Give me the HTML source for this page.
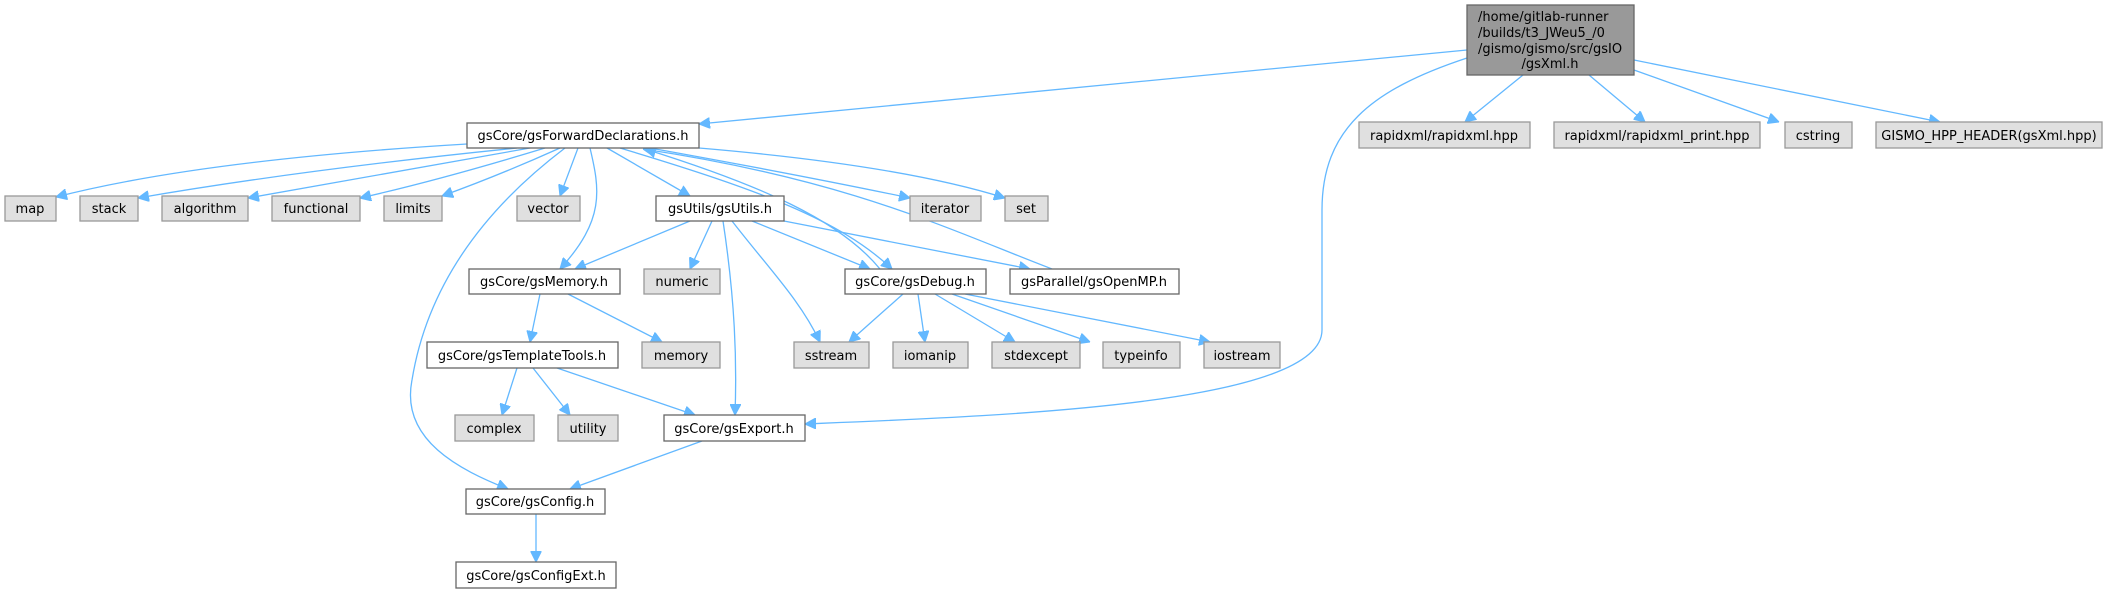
<!DOCTYPE html>
<html><head><meta charset="utf-8"><style>
html,body{margin:0;padding:0;background:#fff;}
svg{display:block;}
text{font-family:"DejaVu Sans","Liberation Sans",sans-serif;font-size:13px;fill:#000;text-anchor:middle;}
.e{fill:none;stroke:#63b8ff;stroke-width:1.3;marker-end:url(#a);}
.g{fill:#e0e0e0;stroke:#999;stroke-width:1.3;}
.w{fill:#fff;stroke:#666;stroke-width:1.3;}
</style></head><body>
<svg width="2121" height="593" viewBox="0 0 2121 593" xmlns="http://www.w3.org/2000/svg">
<defs><marker id="a" viewBox="0 0 10 10" refX="10" refY="5" markerWidth="11" markerHeight="11" markerUnits="userSpaceOnUse" orient="auto"><path d="M0,0 L10,5 L0,10 z" fill="#63b8ff" stroke="#63b8ff"/></marker></defs>
<path class="e" d="M1467,50 Q1100,85 699,124"/>
<path class="e" d="M1467,58 C1370,90 1322,130 1322,210 L1322,330 C1322,405 1000,416 805,424"/>
<path class="e" d="M1523,75 L1465,122"/>
<path class="e" d="M1589,75 L1645,122"/>
<path class="e" d="M1634,70 L1779,122"/>
<path class="e" d="M1634,60 L1940,122"/>
<path class="e" d="M467,144 Q200,160 56,197"/>
<path class="e" d="M517,148 Q300,170 138,198"/>
<path class="e" d="M530,148 Q380,175 248,198"/>
<path class="e" d="M545,148 Q440,180 360,198"/>
<path class="e" d="M560,148 Q500,175 442,196"/>
<path class="e" d="M578,148 L560,196"/>
<path class="e" d="M590,148 C600,190 605,220 560,269"/>
<path class="e" d="M565,148 C470,220 425,300 412,380 C400,440 460,470 508,489"/>
<path class="e" d="M607,148 L690,196"/>
<path class="e" d="M650,148 Q800,175 910,198"/>
<path class="e" d="M699,148 Q900,165 1005,198"/>
<path class="e" d="M620,148 C760,190 840,220 892,269"/>
<path class="e" d="M1052,269 C950,230 850,180 643,149"/>
<path class="e" d="M880,269 C840,220 760,185 645,149"/>
<path class="e" d="M690,221 L575,269"/>
<path class="e" d="M712,221 L690,269"/>
<path class="e" d="M732,221 C770,270 800,300 820,342"/>
<path class="e" d="M723,221 C735,300 737,360 735,415"/>
<path class="e" d="M752,221 L870,269"/>
<path class="e" d="M784,221 L1030,269"/>
<path class="e" d="M540,294 L530,342"/>
<path class="e" d="M568,294 L662,342"/>
<path class="e" d="M517,368 L502,415"/>
<path class="e" d="M533,368 L570,415"/>
<path class="e" d="M557,368 L695,415"/>
<path class="e" d="M702,441 L570,489"/>
<path class="e" d="M536,514 L536,562"/>
<path class="e" d="M903,294 L849,342"/>
<path class="e" d="M918,294 L925,342"/>
<path class="e" d="M935,294 L1015,342"/>
<path class="e" d="M952,294 L1090,342"/>
<path class="e" d="M965,294 L1210,342"/>
<rect x="1467" y="5" width="167" height="70" fill="#999" stroke="#666" stroke-width="1.3"/>
<text x="1478" y="21" style="text-anchor:start">/home/gitlab-runner</text>
<text x="1478" y="37" style="text-anchor:start">/builds/t3_JWeu5_/0</text>
<text x="1478" y="53" style="text-anchor:start">/gismo/gismo/src/gsIO</text>
<text x="1550" y="68">/gsXml.h</text>
<rect class="w" x="467" y="123" width="232" height="25"/><text x="583" y="140">gsCore/gsForwardDeclarations.h</text>
<rect class="g" x="1359" y="122" width="171" height="26"/><text x="1444" y="140">rapidxml/rapidxml.hpp</text>
<rect class="g" x="1554" y="122" width="206" height="26"/><text x="1657" y="140">rapidxml/rapidxml_print.hpp</text>
<rect class="g" x="1785" y="122" width="67" height="26"/><text x="1818" y="140">cstring</text>
<rect class="g" x="1876" y="122" width="226" height="26"/><text x="1989" y="140">GISMO_HPP_HEADER(gsXml.hpp)</text>
<rect class="g" x="5" y="196" width="51" height="25"/><text x="30" y="213">map</text>
<rect class="g" x="80" y="196" width="58" height="25"/><text x="109" y="213">stack</text>
<rect class="g" x="162" y="196" width="86" height="25"/><text x="205" y="213">algorithm</text>
<rect class="g" x="272" y="196" width="88" height="25"/><text x="316" y="213">functional</text>
<rect class="g" x="384" y="196" width="58" height="25"/><text x="413" y="213">limits</text>
<rect class="g" x="517" y="196" width="63" height="25"/><text x="548" y="213">vector</text>
<rect class="w" x="656" y="196" width="128" height="25"/><text x="720" y="213">gsUtils/gsUtils.h</text>
<rect class="g" x="910" y="196" width="71" height="25"/><text x="945" y="213">iterator</text>
<rect class="g" x="1005" y="196" width="43" height="25"/><text x="1026" y="213">set</text>
<rect class="w" x="469" y="269" width="151" height="25"/><text x="544" y="286">gsCore/gsMemory.h</text>
<rect class="g" x="644" y="269" width="76" height="25"/><text x="682" y="286">numeric</text>
<rect class="w" x="845" y="269" width="141" height="25"/><text x="915" y="286">gsCore/gsDebug.h</text>
<rect class="w" x="1010" y="269" width="169" height="25"/><text x="1094" y="286">gsParallel/gsOpenMP.h</text>
<rect class="w" x="427" y="342" width="191" height="26"/><text x="522" y="360">gsCore/gsTemplateTools.h</text>
<rect class="g" x="642" y="342" width="78" height="26"/><text x="681" y="360">memory</text>
<rect class="g" x="794" y="342" width="75" height="26"/><text x="831" y="360">sstream</text>
<rect class="g" x="893" y="342" width="75" height="26"/><text x="930" y="360">iomanip</text>
<rect class="g" x="992" y="342" width="88" height="26"/><text x="1036" y="360">stdexcept</text>
<rect class="g" x="1103" y="342" width="77" height="26"/><text x="1141" y="360">typeinfo</text>
<rect class="g" x="1204" y="342" width="76" height="26"/><text x="1242" y="360">iostream</text>
<rect class="g" x="455" y="415" width="79" height="26"/><text x="494" y="433">complex</text>
<rect class="g" x="558" y="415" width="60" height="26"/><text x="588" y="433">utility</text>
<rect class="w" x="664" y="415" width="141" height="26"/><text x="734" y="433">gsCore/gsExport.h</text>
<rect class="w" x="466" y="489" width="139" height="25"/><text x="535" y="506">gsCore/gsConfig.h</text>
<rect class="w" x="456" y="562" width="160" height="26"/><text x="536" y="580">gsCore/gsConfigExt.h</text>
</svg>
</body></html>
